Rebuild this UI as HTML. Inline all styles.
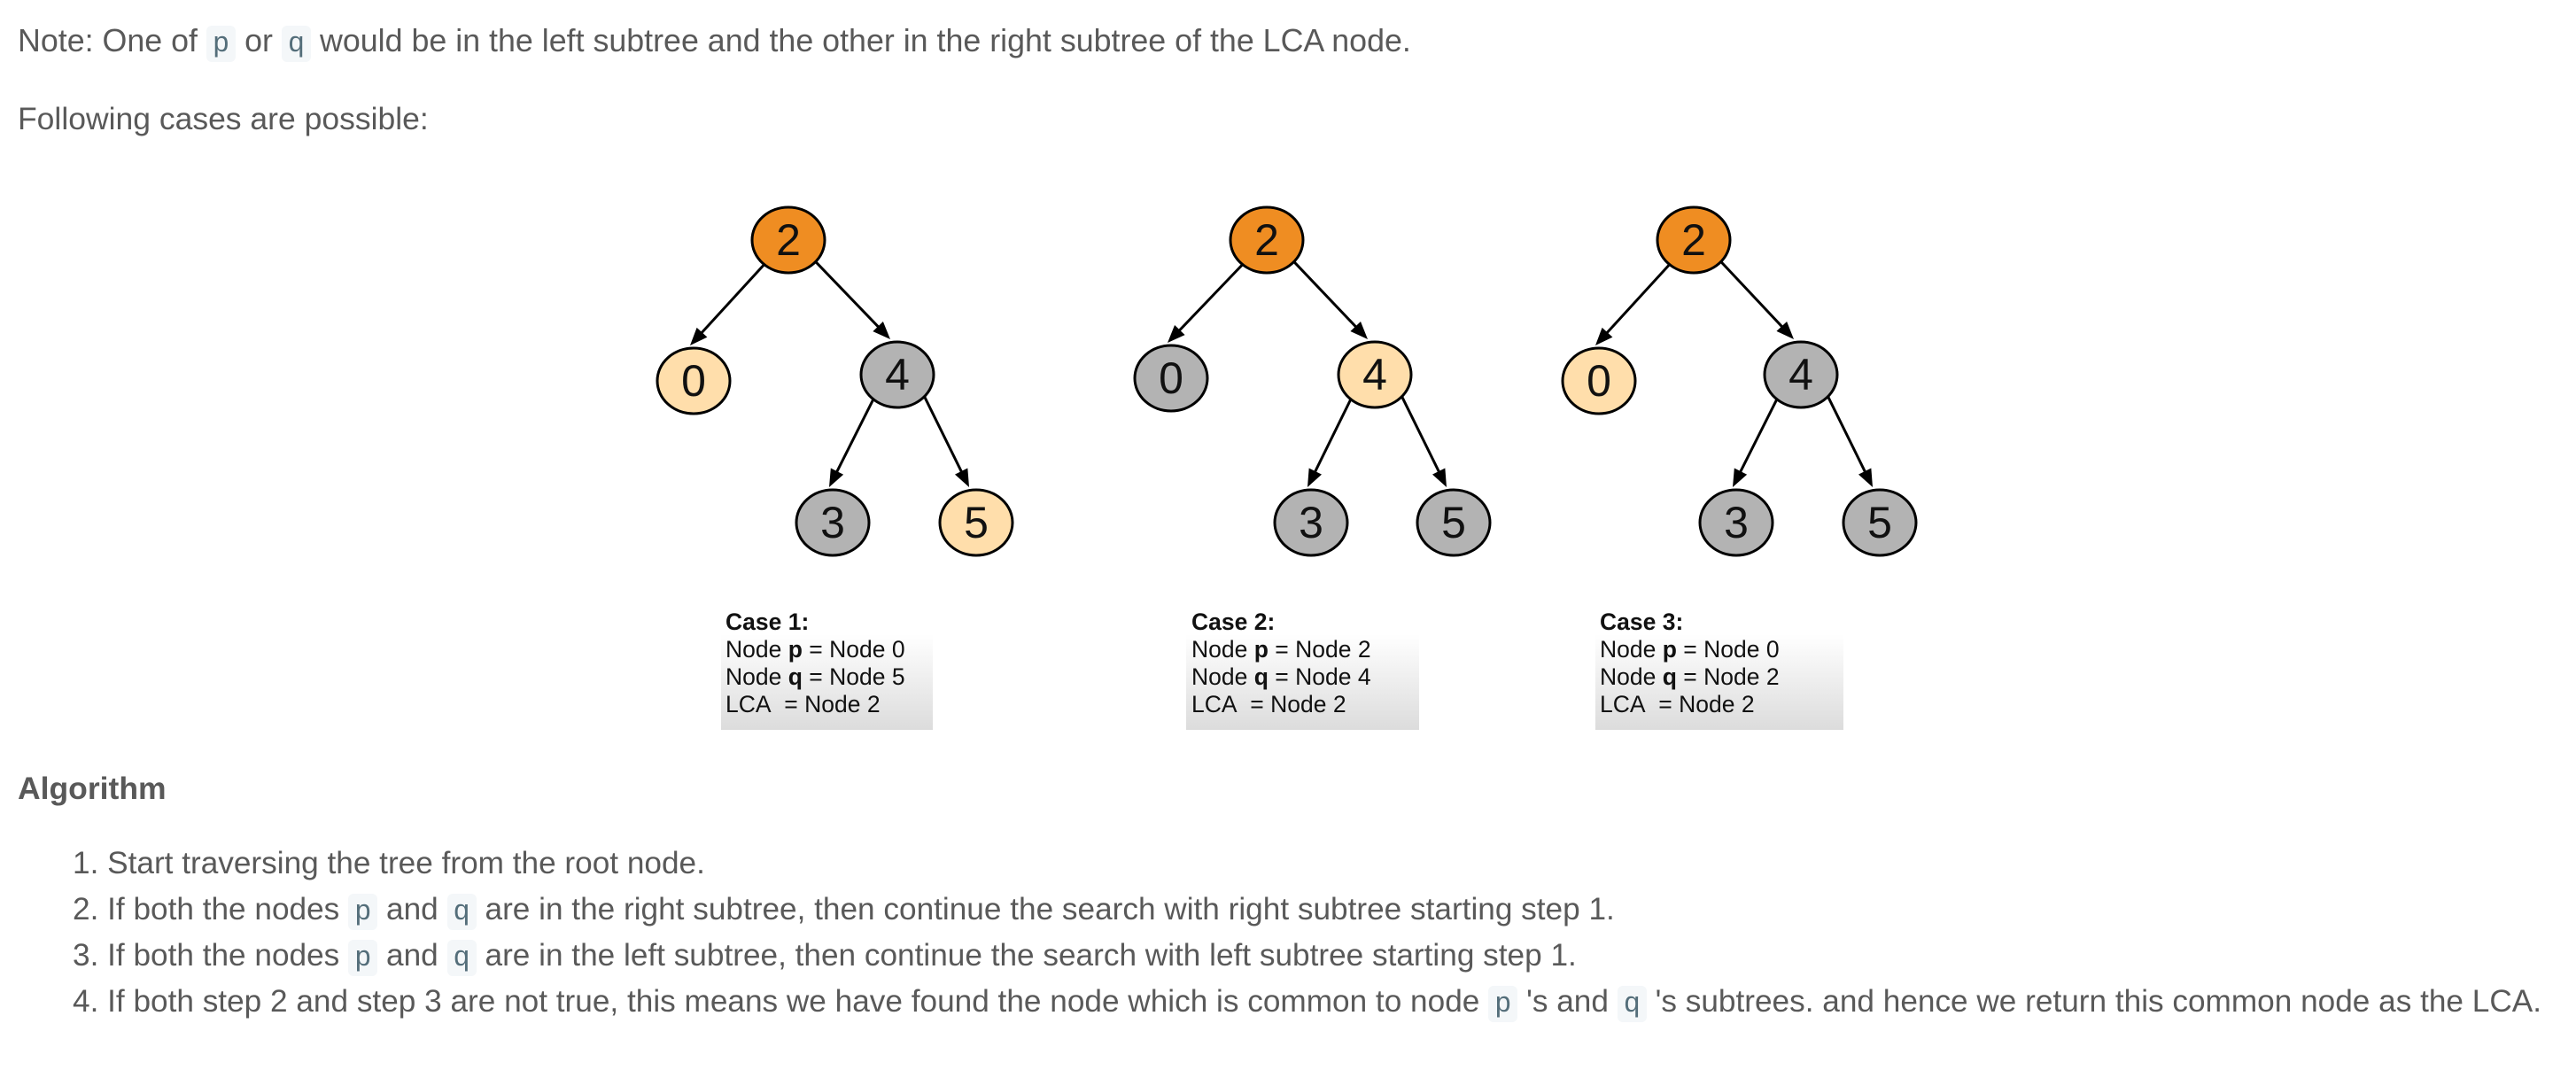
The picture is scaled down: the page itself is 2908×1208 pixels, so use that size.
<!DOCTYPE html>
<html><head><meta charset="utf-8"><style>
body{margin:0;width:2908px;height:1208px;background:#fff;position:relative;overflow:hidden;font-family:"Liberation Sans",Arial,sans-serif;color:#595959}
.t{position:absolute;font-size:35.5px;white-space:nowrap;line-height:40px}
.li{font-size:35.2px}
code{font-family:"Liberation Mono",monospace;color:#546e7a;background:#f4f7f9;border-radius:6px;padding:2px 7px;font-size:32px}
.cap{position:absolute;font-size:26.5px;line-height:31px;color:#111;white-space:nowrap}
.box{position:absolute;background:linear-gradient(#fff,#dcdcdc)}
</style></head><body>
<div class="t" style="left:20px;top:26px;font-size:35.8px">Note: One of <code>p</code> or <code>q</code> would be in the left subtree and the other in the right subtree of the LCA node.</div>
<div class="t" style="left:20px;top:114px">Following cases are possible:</div>
<div class="t" style="left:20px;top:870px;font-weight:bold">Algorithm</div>
<div class="t li" style="left:82px;top:955px">1. Start traversing the tree from the root node.</div>
<div class="t li" style="left:82px;top:1007px">2. If both the nodes <code>p</code> and <code>q</code> are in the right subtree, then continue the search with right subtree starting step 1.</div>
<div class="t li" style="left:82px;top:1059px">3. If both the nodes <code>p</code> and <code>q</code> are in the left subtree, then continue the search with left subtree starting step 1.</div>
<div class="t li" style="left:82px;top:1111px">4. If both step 2 and step 3 are not true, this means we have found the node which is common to node <code>p</code> 's and <code>q</code> 's subtrees. and hence we return this common node as the LCA.</div>

<div class="box" style="left:814px;top:716px;width:239px;height:108px"></div>
<div class="box" style="left:1339px;top:716px;width:263px;height:108px"></div>
<div class="box" style="left:1801px;top:716px;width:280px;height:108px"></div>
<div class="cap" style="left:819px;top:687px"><b>Case 1:</b><br>Node <b>p</b> = Node 0<br>Node <b>q</b> = Node 5<br>LCA&nbsp; = Node 2</div>
<div class="cap" style="left:1345px;top:687px"><b>Case 2:</b><br>Node <b>p</b> = Node 2<br>Node <b>q</b> = Node 4<br>LCA&nbsp; = Node 2</div>
<div class="cap" style="left:1806px;top:687px"><b>Case 3:</b><br>Node <b>p</b> = Node 0<br>Node <b>q</b> = Node 2<br>LCA&nbsp; = Node 2</div>

<svg width="2908" height="1208" style="position:absolute;left:0;top:0">
<g id="trees" font-family="Liberation Sans,Arial,sans-serif" font-size="50" text-anchor="middle"></g>
</svg>
<script>
var L='#ffdeab',G='#b3b3b3',O='#ef8d22';
var trees=[
 {x:[890,783,1013,940,1102],y:[271,430,423,590,590],c:[O,L,G,G,L]},
 {x:[1430,1322,1552,1480,1641],y:[271,427,423,590,590],c:[O,G,L,G,G]},
 {x:[1912,1805,2033,1960,2122],y:[271,430,423,590,590],c:[O,L,G,G,G]}];
var lab=['2','0','4','3','5'],edges=[[0,1],[0,2],[2,3],[2,4]];
var g=document.getElementById('trees'),s='';
var rx=41,ry=37;
trees.forEach(function(t){
 edges.forEach(function(e,k){
  var x1=t.x[e[0]],y1=t.y[e[0]],x2=t.x[e[1]],y2=t.y[e[1]];
  var sa=k%2==0?2.3:0.72, sx=x1+rx*Math.cos(sa)*0.98, sy=y1+ry*Math.sin(sa)*0.98;
  var ex=x2+(k%2==0?-4:-8), ey=y2-ry-3;
  var a=Math.atan2(ey-sy,ex-sx);
  s+='<line x1="'+sx+'" y1="'+sy+'" x2="'+(ex-Math.cos(a)*10)+'" y2="'+(ey-Math.sin(a)*10)+'" stroke="#000" stroke-width="3"/>';
  var hx=ex-Math.cos(a)*20,hy=ey-Math.sin(a)*20,px=-Math.sin(a)*8,py=Math.cos(a)*8;
  s+='<path d="M'+ex+','+ey+'L'+(hx+px)+','+(hy+py)+'L'+(hx-px)+','+(hy-py)+'z" fill="#000"/>';
 });
 for(var i=0;i<5;i++){
  s+='<ellipse cx="'+t.x[i]+'" cy="'+t.y[i]+'" rx="'+rx+'" ry="'+ry+'" fill="'+t.c[i]+'" stroke="#000" stroke-width="3"/>';
  s+='<text x="'+t.x[i]+'" y="'+(t.y[i]+17)+'" fill="#111">'+lab[i]+'</text>';
 }
});
g.innerHTML=s;
</script>
</body></html>
